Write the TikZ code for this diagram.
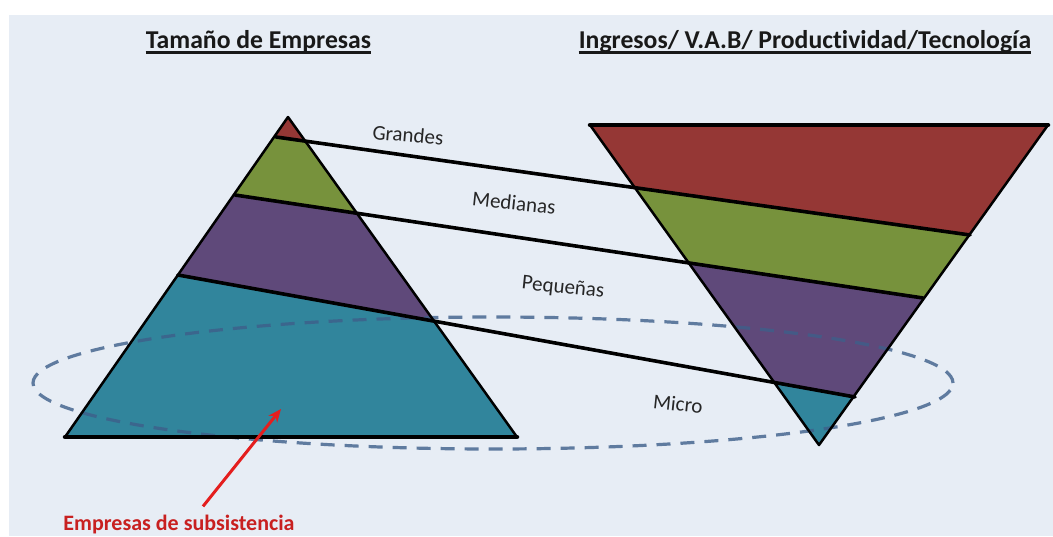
\documentclass[tikz,border=0pt]{standalone}
\usepackage{fontspec}
\setmainfont{Carlito}[Ligatures=NoCommon]
\usetikzlibrary{calc,arrows.meta}
\definecolor{bgblue}{RGB}{231,237,245}
\definecolor{cred}{RGB}{149,55,53}
\definecolor{cgreen}{RGB}{119,146,60}
\definecolor{cpurple}{RGB}{95,73,122}
\definecolor{cteal}{RGB}{49,133,156}
\definecolor{cdash}{RGB}{62,95,138}
\definecolor{labred}{RGB}{200,32,32}
\definecolor{arrred}{RGB}{228,30,30}
\tikzset{
  edge/.style={draw=black, line width=2.5pt, line join=round},
  thickedge/.style={draw=black, line width=4.5pt, line cap=round},
  conn/.style={draw=black, line width=3.6pt, line cap=round},
  lab/.style={inner sep=0pt, font=\fontsize{21}{24}\selectfont, text=black!85},
  titletext/.style={inner sep=0pt, anchor=base, font=\fontsize{25.7}{30}\selectfont\bfseries, text=black!90},
  uline/.style={draw=black!90, line width=2.2pt},
  sublab/.style={inner sep=0pt, anchor=base, font=\fontsize{22}{26}\selectfont\bfseries, text=labred},
  redarrow/.style={draw=arrred, line width=3pt, -{Stealth[length=13pt,width=11pt]}},
  dashring/.style={draw=cdash, line width=3.2pt, dash pattern=on 14pt off 10pt, opacity=0.8}
}
\begin{document}
\begin{tikzpicture}[x=1pt,y=-1pt]
\useasboundingbox (0,0) rectangle (1053,536);
\fill[bgblue] (9,15) rectangle (1053,536);

% triangle corners
\coordinate (LA) at (288,117);
\coordinate (LB) at (65,437);
\coordinate (LC) at (517,437);
\coordinate (RA) at (590,125);
\coordinate (RB) at (1048,125);
\coordinate (RC) at (819,445);
% connector end points
\coordinate (G1) at (276,137);
\coordinate (G2) at (970,235);
\coordinate (M1) at (235,195);
\coordinate (M2) at (923,298);
\coordinate (P1) at (178,275);
\coordinate (P2) at (855,397);

% band fills
\begin{scope}
\clip (LA) -- (LB) -- (LC) -- cycle (RA) -- (RB) -- (RC) -- cycle;
\fill[cteal] (0,0) rectangle (1053,536);
\fill[cpurple] ($(P1)!-1!(P2)$) -- ($(P2)!-1!(P1)$) -- (1600,-700) -- (-600,-700) -- cycle;
\fill[cgreen] ($(M1)!-1!(M2)$) -- ($(M2)!-1!(M1)$) -- (1600,-700) -- (-600,-700) -- cycle;
\fill[cred] ($(G1)!-1!(G2)$) -- ($(G2)!-1!(G1)$) -- (1600,-700) -- (-600,-700) -- cycle;
\end{scope}

% dashed ellipse
\draw[dashring] (493,383) ellipse [x radius=460pt, y radius=66pt];

% outlines
\draw[edge] (LA) -- (LB) -- (LC) -- cycle;
\draw[thickedge] (LB) -- (LC);
\draw[edge] (RA) -- (RB) -- (RC) -- cycle;
\draw[thickedge] (RA) -- (RB);

% connectors
\draw[conn] (G1) -- (G2);
\draw[conn] (M1) -- (M2);
\draw[conn] (P1) -- (P2);

% labels
\node[lab, rotate=-5] (grandes) at (408,135) {Grandes};
\node[lab, rotate=-6] (medianas) at (514,203) {Medianas};
\node[lab, rotate=-6] (pequenas) at (563,288) {Pequeñas};
\node[lab, rotate=-6] (micro) at (678,404) {Micro};

% titles
\node[titletext] (t1) at (258.5,48) {Tamaño de Empresas};
\draw[uline] ([yshift=-4.5pt]t1.base west) -- ([yshift=-4.5pt]t1.base east);
\node[titletext] (t2) at (805,48) {Ingresos/ V.A.B/ Productividad/Tecnología};
\draw[uline] ([yshift=-4.5pt]t2.base west) -- ([yshift=-4.5pt]t2.base east);

% subsistence label and arrow
\node[sublab] (sub) at (179,530) {Empresas de subsistencia};
\coordinate (tip) at (281,409);
\draw[redarrow] ([xshift=24pt,yshift=8pt]sub.north) -- (tip);
\end{tikzpicture}
\end{document}
